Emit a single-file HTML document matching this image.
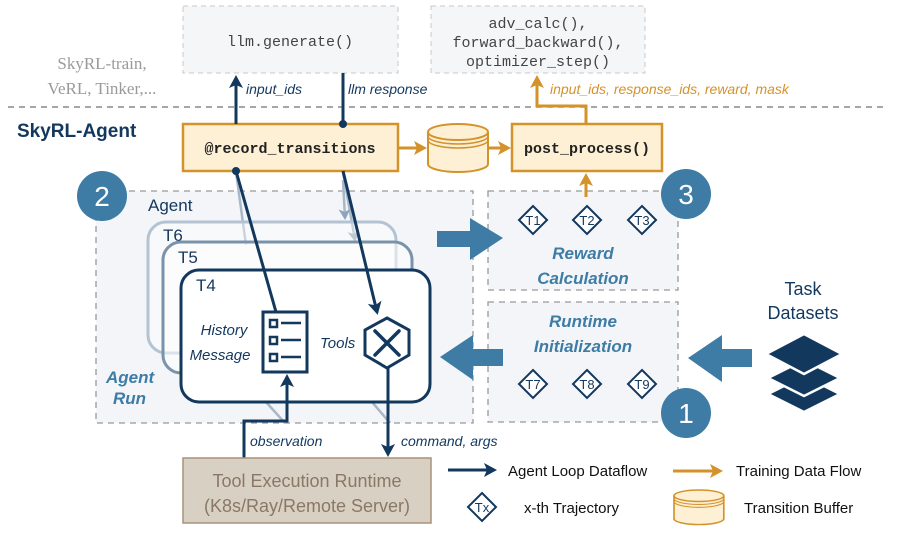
<!DOCTYPE html>
<html><head><meta charset="utf-8"><style>
body{margin:0;background:#fff}
svg{display:block}
text{font-family:"Liberation Sans",sans-serif}
.mono{font-family:"Liberation Mono",monospace}
</style></head><body>
<svg width="897" height="533" viewBox="0 0 897 533">
<defs>
<marker id="an" markerWidth="14" markerHeight="14" refX="10" refY="7" orient="auto" markerUnits="userSpaceOnUse"><path d="M0,0 L13,7 L0,14 L3,7z" fill="#13385e"/></marker>
<marker id="ao" markerWidth="14" markerHeight="14" refX="10" refY="7" orient="auto" markerUnits="userSpaceOnUse"><path d="M0,0 L13,7 L0,14 L3,7z" fill="#d4922a"/></marker>
<marker id="al" markerWidth="12" markerHeight="12" refX="9" refY="6" orient="auto" markerUnits="userSpaceOnUse"><path d="M0,0 L11,6 L0,12 L3,6z" fill="#8fa3b8"/></marker>
<g id="cyl"><path d="M0,8 v32 a30,8 0 0 0 60,0 v-32" fill="#fdf0d5" stroke="#d4922a" stroke-width="2"/><ellipse cx="30" cy="8" rx="30" ry="8" fill="#fdf0d5" stroke="#d4922a" stroke-width="2"/><path d="M0,12 a30,8 0 0 0 60,0 M0,16 a30,8 0 0 0 60,0" fill="none" stroke="#d4922a" stroke-width="1.5"/></g>
</defs>
<rect x="183" y="6" width="215" height="67" fill="#f5f6f8" stroke="#c8c8c8" stroke-dasharray="5,4"/>
<text x="290" y="46" text-anchor="middle" class="mono" font-size="15" fill="#444">llm.generate()</text>
<rect x="431" y="6" width="214" height="67" fill="#f5f6f8" stroke="#c8c8c8" stroke-dasharray="5,4"/>
<text x="538" y="28" text-anchor="middle" class="mono" font-size="15" fill="#444">adv_calc(),</text>
<text x="538" y="47" text-anchor="middle" class="mono" font-size="15" fill="#444">forward_backward(),</text>
<text x="538" y="66" text-anchor="middle" class="mono" font-size="15" fill="#444">optimizer_step()</text>
<text x="102" y="69" text-anchor="middle" font-size="17" fill="#9a9a9a" style="font-family:'Liberation Serif',serif">SkyRL-train,</text>
<text x="102" y="94" text-anchor="middle" font-size="17" fill="#9a9a9a" style="font-family:'Liberation Serif',serif">VeRL, Tinker,...</text>
<line x1="8" y1="107" x2="888" y2="107" stroke="#888" stroke-width="1.5" stroke-dasharray="6,5"/>
<text x="17" y="137" font-size="19" font-weight="bold" fill="#13385e">SkyRL-Agent</text>
<rect x="96" y="191" width="377" height="232" fill="#f3f5f8" stroke="#999" stroke-dasharray="6,5" stroke-width="1.3"/>
<rect x="488" y="191" width="190" height="99" fill="#f3f5f8" stroke="#999" stroke-dasharray="6,5" stroke-width="1.3"/>
<rect x="488" y="302" width="190" height="120" fill="#f3f5f8" stroke="#999" stroke-dasharray="6,5" stroke-width="1.3"/>
<text x="148" y="211" font-size="17" fill="#13385e">Agent</text>
<g stroke="#a8b8c8" stroke-width="2.5" fill="none">
<line x1="236" y1="172" x2="246" y2="245" /><line x1="343" y1="172" x2="355" y2="240" marker-end="url(#al)"/>
<line x1="343" y1="180" x2="345" y2="218" marker-end="url(#al)"/>
<line x1="266" y1="402" x2="285" y2="423"/><line x1="372" y1="402" x2="390" y2="423"/>
</g>
<rect x="148" y="222" width="248" height="131" rx="18" fill="#fff" fill-opacity="0.4" stroke="#b4c3d2" stroke-width="3"/>
<text x="163" y="241" font-size="17" fill="#13385e">T6</text>
<rect x="163" y="242" width="249" height="131" rx="18" fill="#fff" fill-opacity="0.5" stroke="#7a93ab" stroke-width="3"/>
<text x="178" y="263" font-size="17" fill="#13385e">T5</text>
<rect x="181" y="270" width="249" height="132" rx="18" fill="#fff" stroke="#13385e" stroke-width="3"/>
<text x="196" y="291" font-size="17" fill="#13385e">T4</text>
<text x="224" y="335" text-anchor="middle" font-size="15" font-style="italic" fill="#13385e">History</text>
<text x="220" y="360" text-anchor="middle" font-size="15" font-style="italic" fill="#13385e">Message</text>
<rect x="263" y="312" width="44" height="60" fill="#fff" stroke="#13385e" stroke-width="3"/>
<g stroke="#13385e" stroke-width="2.5" fill="none"><rect x="270" y="320" width="7" height="7"/><rect x="270" y="337" width="7" height="7"/><rect x="270" y="354" width="7" height="7"/><line x1="281" y1="323" x2="301" y2="323"/><line x1="281" y1="340" x2="301" y2="340"/><line x1="281" y1="357" x2="301" y2="357"/></g>
<text x="320" y="348" font-size="15" font-style="italic" fill="#13385e">Tools</text>
<polygon points="387,318 409,330 409,355 387,368 365,355 365,330" fill="#fff" stroke="#13385e" stroke-width="3"/>
<g stroke="#13385e" stroke-width="3.5" stroke-linecap="round"><line x1="375" y1="331" x2="399" y2="355"/><line x1="399" y1="331" x2="375" y2="355"/></g>
<text x="106" y="383" font-size="17" font-weight="bold" font-style="italic" fill="#3e7ca6">Agent</text>
<text x="113" y="404" font-size="17" font-weight="bold" font-style="italic" fill="#3e7ca6">Run</text>
<rect x="183" y="124" width="215" height="47" fill="#fdf0d5" stroke="#d4922a" stroke-width="2.5"/>
<text x="290" y="153" text-anchor="middle" class="mono" font-size="15" font-weight="bold" fill="#222">@record_transitions</text>
<use href="#cyl" x="428" y="124"/>
<rect x="512" y="124" width="150" height="47" fill="#fdf0d5" stroke="#d4922a" stroke-width="2.5"/>
<text x="587" y="153" text-anchor="middle" class="mono" font-size="15" font-weight="bold" fill="#222">post_process()</text>
<g stroke="#d4922a" stroke-width="3" fill="none">
<line x1="399" y1="148" x2="424" y2="148" marker-end="url(#ao)"/>
<line x1="489" y1="148" x2="508" y2="148" marker-end="url(#ao)"/>
<polyline points="586,124 586,106 537,106 537,78" marker-end="url(#ao)"/>
<line x1="586" y1="197" x2="586" y2="176" marker-end="url(#ao)"/>
</g>
<text x="550" y="94" font-size="14" font-style="italic" fill="#d4922a">input_ids, response_ids, reward, mask</text>
<g stroke="#13385e" stroke-width="3" fill="none">
<line x1="236" y1="124" x2="236" y2="78" marker-end="url(#an)"/>
<line x1="343" y1="73" x2="343" y2="124"/>
<line x1="236" y1="171" x2="276" y2="312"/>
<line x1="343" y1="171" x2="377" y2="312" marker-end="url(#an)"/>
<polyline points="244,458 244,421 287,421 287,377" marker-end="url(#an)"/>
<line x1="388" y1="368" x2="388" y2="454" marker-end="url(#an)"/>
</g>
<circle cx="343" cy="124" r="4" fill="#13385e"/><circle cx="236" cy="171" r="4" fill="#13385e"/>
<text x="246" y="94" font-size="14" font-style="italic" fill="#13385e">input_ids</text>
<text x="348" y="94" font-size="14" font-style="italic" fill="#13385e">llm response</text>
<text x="250" y="446" font-size="14" font-style="italic" fill="#13385e">observation</text>
<text x="401" y="446" font-size="14" font-style="italic" fill="#13385e">command, args</text>
<rect x="183" y="458" width="248" height="65" fill="#d9d0c4" stroke="#a8927a" stroke-width="1.5"/>
<text x="307" y="487" text-anchor="middle" font-size="18" fill="#8a7866">Tool Execution Runtime</text>
<text x="307" y="512" text-anchor="middle" font-size="18" fill="#8a7866">(K8s/Ray/Remote Server)</text>
<g fill="#3e7ca6"><circle cx="102" cy="196" r="25"/><circle cx="686" cy="194" r="25"/><circle cx="686" cy="413" r="25"/></g>
<g fill="#fff" font-size="28" text-anchor="middle"><text x="102" y="206">2</text><text x="686" y="204">3</text><text x="686" y="423">1</text></g>
<g fill="#3e7ca6">
<polygon points="437,231 470,231 470,218 503,238 470,260 470,247 437,247"/>
<polygon points="503,349 473,349 473,335 440,357 473,380 473,366 503,366"/>
<polygon points="752,349 722,349 722,335 688,358 722,382 722,367 752,367"/>
</g>
<g font-size="17" font-weight="bold" font-style="italic" fill="#3e7ca6" text-anchor="middle">
<text x="583" y="259">Reward</text><text x="583" y="284">Calculation</text>
<text x="583" y="327">Runtime</text><text x="583" y="352">Initialization</text></g>
<g stroke="#13385e" stroke-width="2" fill="#fff">
<polygon points="533,206 547,220 533,234 519,220"/><polygon points="587,206 601,220 587,234 573,220"/><polygon points="642,206 656,220 642,234 628,220"/>
<polygon points="533,370 547,384 533,398 519,384"/><polygon points="587,370 601,384 587,398 573,384"/><polygon points="642,370 656,384 642,398 628,384"/>
<polygon points="482,493 496,507 482,521 468,507"/>
</g>
<g font-size="13" fill="#13385e" text-anchor="middle">
<text x="533" y="225">T1</text><text x="587" y="225">T2</text><text x="642" y="225">T3</text>
<text x="533" y="389">T7</text><text x="587" y="389">T8</text><text x="642" y="389">T9</text><text x="482" y="512">Tx</text></g>
<text x="803" y="295" text-anchor="middle" font-size="18" fill="#13385e">Task</text>
<text x="803" y="319" text-anchor="middle" font-size="18" fill="#13385e">Datasets</text>
<g fill="#13385e" stroke="#fff" stroke-width="2.5" stroke-linejoin="round">
<polygon points="804,376 840,394 804,412 768,394"/>
<polygon points="804,360 840,378 804,396 768,378"/>
<polygon points="804,334 842,354 804,374 766,354"/>
</g>
<line x1="448" y1="470" x2="494" y2="470" stroke="#13385e" stroke-width="3" marker-end="url(#an)"/>
<text x="508" y="476" font-size="15" fill="#111">Agent Loop Dataflow</text>
<line x1="673" y1="471" x2="720" y2="471" stroke="#d4922a" stroke-width="3" marker-end="url(#ao)"/>
<text x="736" y="476" font-size="15" fill="#111">Training Data Flow</text>
<text x="524" y="513" font-size="15" fill="#111">x-th Trajectory</text>
<use href="#cyl" transform="translate(674,490) scale(0.83,0.72)"/>
<text x="744" y="513" font-size="15" fill="#111">Transition Buffer</text>
</svg>
</body></html>
